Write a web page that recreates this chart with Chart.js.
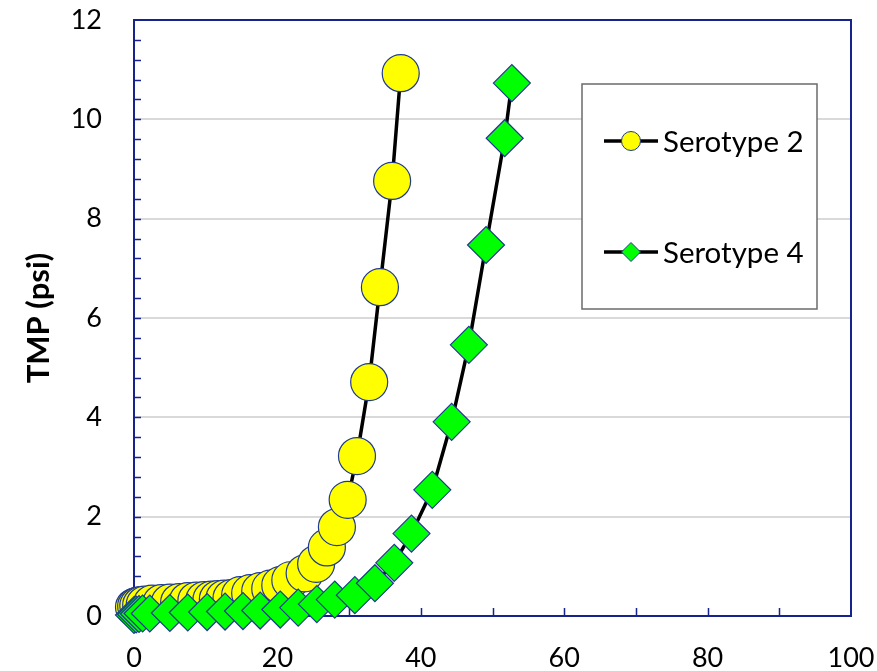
<!DOCTYPE html>
<html>
<head>
<meta charset="utf-8">
<title>TMP vs throughput</title>
<script src="https://cdn.jsdelivr.net/npm/chart.js@4.4.1/dist/chart.umd.min.js"></script>
<style>
  html, body { margin: 0; padding: 0; background: #ffffff; }
  canvas { display: block; }
</style>
</head>
<body>
<canvas id="tmpChart" width="877" height="671"></canvas>
<script>
// Serotype 2 run
const serotype2X = [0, 0.3, 0.6, 1, 1.5, 2.5, 3.8, 5, 6.3, 7.5, 8.7, 9.8, 10.8, 11.7, 12.6, 13.6, 14.8, 16.2, 17.6, 19, 20.4, 21.8, 23.8, 25.4, 26.9, 28.3, 29.8, 31.1, 32.8, 34.3, 36, 37.2];
const serotype2Y = [0.18, 0.2, 0.21, 0.22, 0.23, 0.25, 0.26, 0.27, 0.28, 0.3, 0.31, 0.32, 0.33, 0.34, 0.35, 0.36, 0.42, 0.46, 0.5, 0.55, 0.62, 0.72, 0.86, 1.05, 1.38, 1.79, 2.34, 3.22, 4.71, 6.62, 8.76, 10.93];

// Serotype 4 run
const serotype4X = [0, 0.3, 0.7, 1.2, 2.2, 5, 7.5, 10.2, 12.7, 15.2, 17.6, 20.4, 22.9, 25.5, 28, 30.8, 33.6, 36.3, 38.7, 41.6, 44.3, 46.7, 49.1, 51.7, 52.7];
const serotype4Y = [0.02, 0.03, 0.04, 0.05, 0.05, 0.06, 0.07, 0.08, 0.09, 0.1, 0.11, 0.13, 0.17, 0.24, 0.33, 0.42, 0.66, 1.07, 1.66, 2.54, 3.91, 5.46, 7.47, 9.62, 10.73];

const seriesNames = ['Serotype 2', 'Serotype 4'];
const xTicks = [0, 20, 40, 60, 80, 100];
const yTicks = [0, 2, 4, 6, 8, 10, 12];

const axisColor = '#16238c';
const markerEdge = '#1f3a93';
const fontFamily = "Lato, 'Open Sans', sans-serif";

function toPoints(xs, ys) {
    return xs.map((x, i) => ({ x: x, y: ys[i] }));
}

// box around the plot plus inward tick marks
const frameAndTicks = {
    id: 'frameAndTicks',
    beforeDatasetsDraw(chart) {
        const { ctx, chartArea: a, scales } = chart;
        ctx.save();
        ctx.strokeStyle = axisColor;
        ctx.lineWidth = 1.5;
        ctx.beginPath();
        for (let v = 0.4; v < 12; v += 0.4) {
            const y = Math.round(scales.y.getPixelForValue(v)) + 0.5;
            ctx.moveTo(a.left, y);
            ctx.lineTo(a.left + 7, y);
        }
        for (let v = 10; v < 100; v += 10) {
            const x = Math.round(scales.x.getPixelForValue(v)) + 0.5;
            ctx.moveTo(x, a.bottom);
            ctx.lineTo(x, a.bottom - 8);
        }
        ctx.stroke();
        ctx.lineWidth = 2;
        ctx.strokeRect(a.left, a.top, a.right - a.left, a.bottom - a.top);
        ctx.restore();
    }
};

// legend panel inside the plot area
const boxedLegend = {
    id: 'boxedLegend',
    afterDraw(chart) {
        const { ctx } = chart;
        const sets = chart.data.datasets;
        const left = 582, top = 84, w = 235, h = 225;
        ctx.save();
        ctx.fillStyle = '#ffffff';
        ctx.fillRect(left, top, w, h);
        ctx.strokeStyle = '#6b6b6b';
        ctx.lineWidth = 1.5;
        ctx.strokeRect(left, top, w, h);
        const rows = [141, 252];
        sets.forEach((ds, i) => {
            const y = rows[i];
            ctx.strokeStyle = '#000000';
            ctx.lineWidth = 3.5;
            ctx.beginPath();
            ctx.moveTo(604, y);
            ctx.lineTo(658, y);
            ctx.stroke();
            ctx.fillStyle = ds.pointBackgroundColor;
            ctx.strokeStyle = markerEdge;
            ctx.lineWidth = 1;
            ctx.beginPath();
            if (ds.pointStyle === 'circle') {
                ctx.arc(631, y, 9.5, 0, Math.PI * 2);
            } else {
                ctx.moveTo(631 - 9.5, y);
                ctx.lineTo(631, y - 9.5);
                ctx.lineTo(631 + 9.5, y);
                ctx.lineTo(631, y + 9.5);
                ctx.closePath();
            }
            ctx.fill();
            ctx.stroke();
            ctx.fillStyle = '#000000';
            ctx.font = '29.5px ' + fontFamily;
            ctx.textBaseline = 'middle';
            ctx.textAlign = 'left';
            ctx.fillText(ds.label, 663, y + 1);
        });
        ctx.restore();
    }
};

new Chart(document.getElementById('tmpChart'), {
    type: 'scatter',
    data: {
        datasets: [
            {
                label: seriesNames[0],
                data: toPoints(serotype2X, serotype2Y),
                showLine: true,
                borderColor: '#000000',
                borderWidth: 3.5,
                pointStyle: 'circle',
                pointRadius: 18.5,
                pointBackgroundColor: '#ffff00',
                pointBorderColor: markerEdge,
                pointBorderWidth: 1.2,
                order: 1
            },
            {
                label: seriesNames[1],
                data: toPoints(serotype4X, serotype4Y),
                showLine: true,
                borderColor: '#000000',
                borderWidth: 3.5,
                pointStyle: 'rectRot',
                pointRadius: 18.5,
                pointBackgroundColor: '#00ff00',
                pointBorderColor: markerEdge,
                pointBorderWidth: 1.2,
                order: 0
            }
        ]
    },
    options: {
        responsive: false,
        animation: false,
        clip: false,
        layout: { padding: { left: 0, top: 20, right: 26, bottom: 0 } },
        plugins: {
            legend: { display: false },
            tooltip: { enabled: false }
        },
        scales: {
            x: {
                type: 'linear',
                min: 0,
                max: 100,
                afterFit(scale) {
                    scale.height = 55;
                    scale.paddingLeft = 0;
                    scale.paddingRight = 0;
                },
                afterBuildTicks(scale) { scale.ticks = xTicks.map(v => ({ value: v })); },
                grid: { display: false, drawTicks: false },
                border: { display: false },
                ticks: {
                    padding: 26,
                    color: '#000000',
                    font: { family: fontFamily, size: 27 }
                }
            },
            y: {
                type: 'linear',
                min: 0,
                max: 12,
                afterFit(scale) {
                    scale.width = 134;
                    scale.paddingTop = 0;
                    scale.paddingBottom = 0;
                },
                afterBuildTicks(scale) { scale.ticks = yTicks.map(v => ({ value: v })); },
                grid: { color: '#d9d9d9', lineWidth: 2, drawTicks: false },
                border: { display: false },
                ticks: {
                    padding: 32,
                    color: '#000000',
                    font: { family: fontFamily, size: 27 }
                },
                title: {
                    display: true,
                    text: 'TMP (psi)',
                    color: '#000000',
                    padding: { top: 20, bottom: 0 },
                    font: { family: fontFamily, size: 31, weight: 'bold' }
                }
            }
        }
    },
    plugins: [frameAndTicks, boxedLegend]
});
</script>
</body>
</html>
